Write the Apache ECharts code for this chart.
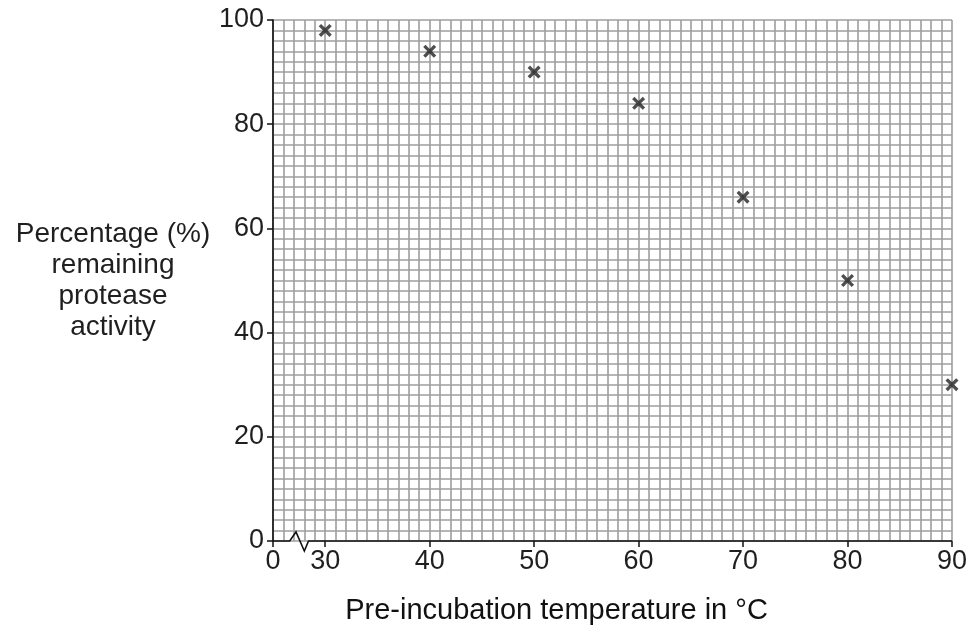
<!DOCTYPE html>
<html><head><meta charset="utf-8">
<script src="https://cdn.jsdelivr.net/npm/echarts@6/dist/echarts.min.js"></script>
<style>html,body{margin:0;padding:0;background:#fff}#c{width:974px;height:633px}</style>
</head><body><div id="c"></div>
<script>
// ---- data ----
const temperatures = [30, 40, 50, 60, 70, 80, 90];
const activity = [98, 94, 90, 84, 66, 50, 30];
const xTickLabels = [0, 30, 40, 50, 60, 70, 80, 90];
const yTickLabels = [0, 20, 40, 60, 80, 100];

// broken x axis: 0 kept, values from 30 on are shifted so 30 sits 5 grid units after 0
const BREAK_FROM = 30, BREAK_AT = 5;
function toAxis(v) { return v === 0 ? 0 : v - BREAK_FROM + BREAK_AT; }
function fromAxis(u) { return u === 0 ? 0 : u + BREAK_FROM - BREAK_AT; }
const X_MAX = toAxis(xTickLabels[xTickLabels.length - 1]);

const FONT = '"Liberation Sans", Arial, sans-serif';
const TXT = '#1f1f1f';
const GRIDC = '#9e9e9e';

const chart = echarts.init(document.getElementById('c'), null, { renderer: 'canvas' });

chart.setOption({
  animation: false,
  backgroundColor: '#fff',
  grid: { left: 273, top: 20, width: 679, height: 521, containLabel: false },
  xAxis: [
    { // grid lines
      type: 'value', min: 0, max: X_MAX, interval: 5,
      axisLine: { show: false }, axisTick: { show: false }, axisLabel: { show: false },
      splitLine: { show: true, lineStyle: { color: GRIDC, width: 1.6 } },
      minorTick: { show: false, splitNumber: 5 },
      minorSplitLine: { show: true, lineStyle: { color: GRIDC, width: 1.6 } }
    },
    { // ticks + labels
      type: 'value', min: 0, max: X_MAX, position: 'bottom',
      axisLine: { show: false },
      splitLine: { show: false },
      axisTick: { show: true, inside: false, length: 6, customValues: xTickLabels.map(toAxis),
                  lineStyle: { color: '#111', width: 1.5 } },
      axisLabel: { show: true, customValues: xTickLabels.map(toAxis), formatter: v => String(fromAxis(v)),
                   fontFamily: FONT, fontSize: 27, color: TXT, margin: 7 },
      name: 'Pre-incubation temperature in °C', nameLocation: 'middle', nameGap: 55,
      nameTextStyle: { fontFamily: FONT, fontSize: 29, color: '#111', padding: [0, 112, 0, 0] }
    }
  ],
  yAxis: {
    type: 'value', min: 0, max: 100, interval: 20,
    axisLine: { show: true, lineStyle: { color: '#111', width: 1.6 } },
    axisTick: { show: true, inside: false, length: 6, lineStyle: { color: '#111', width: 1.5 } },
    axisLabel: { fontFamily: FONT, fontSize: 27, color: TXT, margin: 9,
                 formatter: v => yTickLabels.indexOf(v) >= 0 ? String(v) : '' },
    splitLine: { show: true, lineStyle: { color: GRIDC, width: 1.6 } },
    minorTick: { show: false, splitNumber: 10 },
    minorSplitLine: { show: true, lineStyle: { color: GRIDC, width: 1.6 } },
    name: 'Percentage (%)\nremaining\nprotease\nactivity',
    nameLocation: 'middle', nameRotate: 0, nameGap: 160,
    nameTextStyle: { fontFamily: FONT, fontSize: 28, color: TXT, align: 'center', verticalAlign: 'middle', lineHeight: 31 }
  },
  series: [{
    type: 'scatter',
    xAxisIndex: 0,
    data: temperatures.map((t, i) => [toAxis(t), activity[i]]),
    symbol: 'path://M0,1.8 L1.8,0 L5,3.2 L8.2,0 L10,1.8 L6.8,5 L10,8.2 L8.2,10 L5,6.8 L1.8,10 L0,8.2 L3.2,5 Z',
    symbolSize: 13,
    itemStyle: { color: '#222' },
    z: 5
  }]
});

// x axis line with the break zigzag
const p = u => chart.convertToPixel({ xAxisIndex: 0, yAxisIndex: 0 }, [u, 0]);
const o = p(0), e = p(X_MAX);
const y0 = o[1];
chart.setOption({
  graphic: [{
    type: 'polyline', z: 10,
    shape: { points: [
      [o[0], y0], [p(1.6)[0], y0], [p(2.2)[0], y0 - 9], [p(3.0)[0], y0 + 10], [p(3.4)[0], y0], [e[0], y0]
    ] },
    style: { stroke: '#111', lineWidth: 1.6, fill: null }
  }]
});
</script>
</body></html>
